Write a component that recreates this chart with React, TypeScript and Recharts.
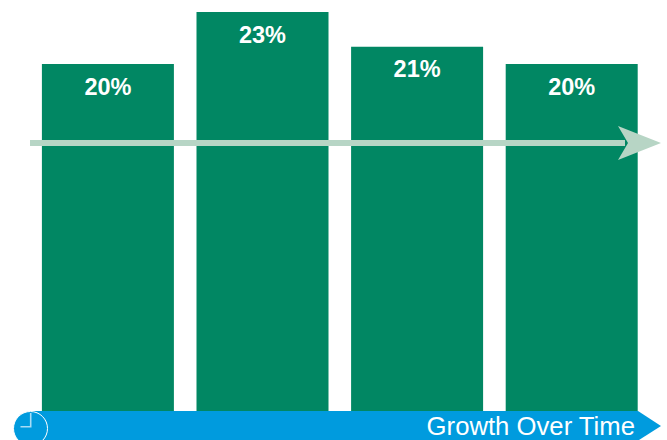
import React from "react";
import { BarChart, Bar, XAxis, YAxis, LabelList } from "recharts";

const periods = ["P1", "P2", "P3", "P4"];
const growth = [20, 23, 21, 20];
const footerLabel = "Growth Over Time";

const data = periods.map((period, i) => ({ period, growth: growth[i] }));

const GREEN = "#018763";
const PALE_GREEN = "#b7d5c5";
const BLUE = "#009bde";
const FONT = '"Liberation Sans", Arial, sans-serif';

// Trend arrow across the bars and the time band along the bottom
function Overlay() {
  return (
    <svg width={667} height={440} style={{ position: "absolute", left: 0, top: 0 }}>
      <rect x={30} y={140} width={595} height={6} fill={PALE_GREEN} />
      <polygon points="618,126 661,143 618,160 628,143" fill={PALE_GREEN} />
      <polygon points="30,411 638,411 661,426 639,440 30,440" fill={BLUE} />
      <circle cx={30.5} cy={428.5} r={17} fill={BLUE} stroke="#ffffff" strokeWidth={1} />
      <path d="M30.7 413 V426.7 H20.5" fill="none" stroke="#a8dcf5" strokeWidth={1.6} />
      <text x={635} y={435} textAnchor="end" fontFamily={FONT} fontSize={25.7} fill="#ffffff">
        {footerLabel}
      </text>
    </svg>
  );
}

export default function App() {
  return (
    <div style={{ position: "absolute", left: 0, top: 0, width: 667, height: 440, background: "#ffffff", overflow: "hidden" }}>
      <BarChart
        width={667}
        height={440}
        data={data}
        margin={{ top: 12, right: 17.7, bottom: 29, left: 30.9 }}
      >
        <XAxis dataKey="period" hide />
        <YAxis hide domain={[0, 23]} />
        <Bar dataKey="growth" fill={GREEN} barSize={132} isAnimationActive={false}>
          <LabelList
            dataKey="growth"
            position="insideTop"
            offset={14}
            formatter={(v: any) => `${v}%`}
            style={{ fill: "#ffffff", fontFamily: FONT, fontSize: 23.5, fontWeight: 700 }}
          />
        </Bar>
      </BarChart>
      <Overlay />
    </div>
  );
}
